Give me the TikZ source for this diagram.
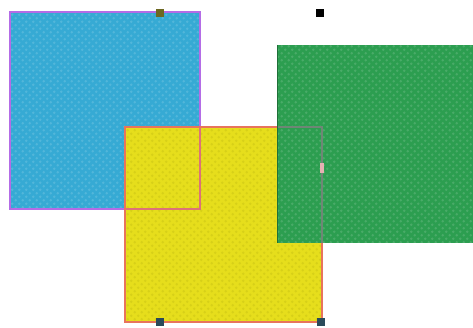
\documentclass[tikz,border=0pt]{standalone}
\usetikzlibrary{patterns}
\pgfdeclarepatternformonly{hexcells}{\pgfqpoint{-1pt}{-1pt}}{\pgfqpoint{8pt}{8pt}}{\pgfqpoint{7pt}{7pt}}{%
  \pgfpathcircle{\pgfqpoint{1.75pt}{1.75pt}}{1.3pt}
  \pgfpathcircle{\pgfqpoint{5.25pt}{5.25pt}}{1.3pt}
  \pgfusepath{fill}}
\definecolor{bluefill}{HTML}{36AAD4}
\definecolor{blueedge}{HTML}{B46CE6}
\definecolor{yelfill}{HTML}{E6DE1C}
\definecolor{yeledge}{HTML}{E8745C}
\definecolor{grnfill}{HTML}{2C9E50}
\definecolor{handle}{HTML}{2A4A5A}
\tikzset{
  sq/.style={line width=1.4pt},
  tex/.style={pattern=hexcells, pattern color=white, opacity=0.14},
  hnd/.style={fill=handle, draw=none},
}
\begin{document}
\begin{tikzpicture}[x=1pt,y=-1pt]
\useasboundingbox (0,0) rectangle (473,328);
% blue
\fill[bluefill] (10,12) rectangle (200,209);
\fill[tex] (10,12) rectangle (200,209);
% yellow
\fill[yelfill] (125,127) rectangle (322,322);
\fill[tex, pattern color=olive] (125,127) rectangle (322,322);
\draw[sq, blueedge] (10,12) rectangle (200,209);
\draw[sq, yeledge, opacity=0.8] (125,209) -- (200,209) -- (200,127);
% green
\fill[grnfill] (277,45) rectangle (473,243);
\fill[tex] (277,45) rectangle (473,243);
\draw[sq, yeledge] (125,127) rectangle (322,322);
\draw[line width=1.4pt, gray!80!grnfill] (277,127) -- (322,127) -- (322,243);
\draw[line width=1pt, grnfill!70!black] (277,45) -- (277,243);
% handles
\fill[hnd, fill=olive!70!black] (156,9) rectangle (164,17);
\fill[hnd] (156,318) rectangle (164,326);
\fill[hnd] (317,318) rectangle (325,326);
\fill[black] (316,9) rectangle (324,17);
\fill[pink!80!gray] (320,163) rectangle (324,173);
\end{tikzpicture}
\end{document}
